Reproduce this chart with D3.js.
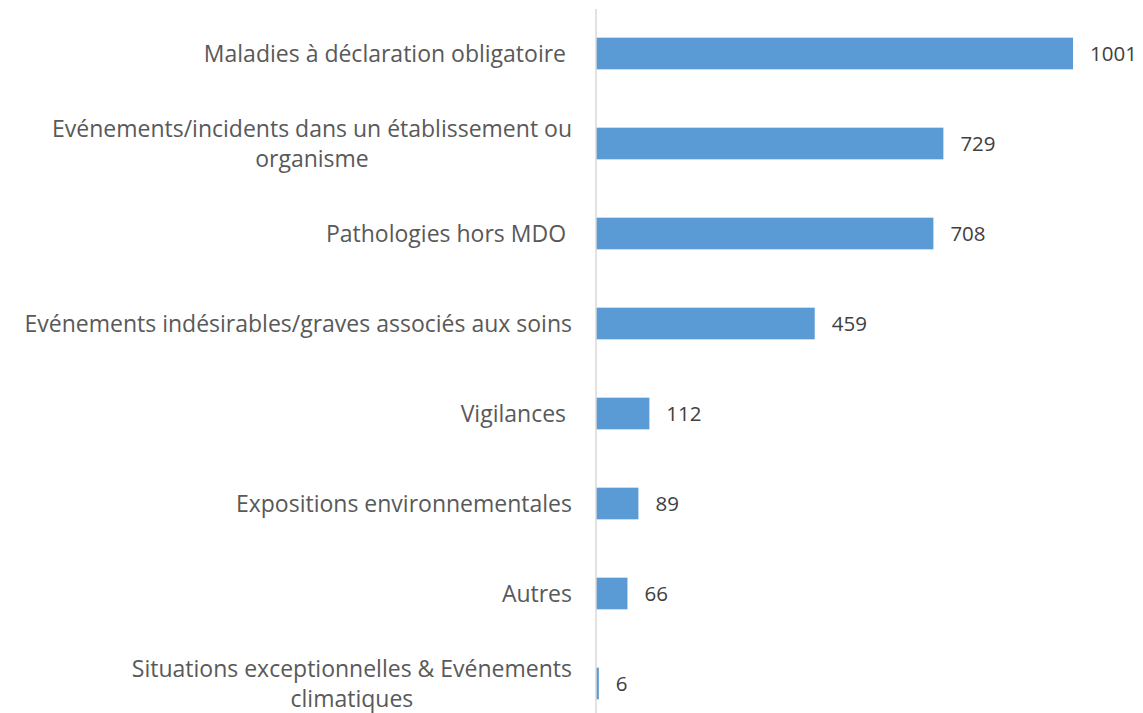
<!DOCTYPE html>
<html>
<head>
<meta charset="utf-8">
<script src="https://cdn.jsdelivr.net/npm/d3@7"></script>
<style>
  body { margin: 0; background: #fff; }
  text { font-family: "Open Sans", sans-serif; white-space: pre; }
</style>
</head>
<body>
<script>
// categories (each entry = lines of the wrapped label)
const categories = [
  ["Maladies à déclaration obligatoire "],
  ["Evénements/incidents dans un établissement ou", "organisme"],
  ["Pathologies hors MDO "],
  ["Evénements indésirables/graves associés aux soins"],
  ["Vigilances "],
  ["Expositions environnementales"],
  ["Autres"],
  ["Situations exceptionnelles & Evénements", "climatiques"]
];
const values = [1001, 729, 708, 459, 112, 89, 66, 6];

const width = 1143, height = 713;
const axisX = 596;

const svg = d3.select("body")
    .append("svg")
    .attr("width", width)
    .attr("height", height);

const x = d3.scaleLinear()
    .domain([0, 1001])
    .range([axisX, 1073]);

const y = d3.scaleBand()
    .domain(d3.range(categories.length))
    .range([8.5, 728.5])
    .paddingInner(0.648)
    .paddingOuter(0.324);

// bars
svg.selectAll("rect.bar")
    .data(values)
    .enter()
    .append("rect")
    .attr("class", "bar")
    .attr("x", x(0))
    .attr("y", (d, i) => y(i))
    .attr("width", d => x(d) - x(0))
    .attr("height", y.bandwidth())
    .attr("fill", "#5b9bd5");

// axis line
svg.append("line")
    .attr("x1", axisX)
    .attr("x2", axisX)
    .attr("y1", 9)
    .attr("y2", height)
    .attr("stroke", "#d9d9d9")
    .attr("stroke-width", 1.5);

// value labels
svg.selectAll("text.val")
    .data(values)
    .enter()
    .append("text")
    .attr("class", "val")
    .attr("x", d => x(d) + 17)
    .attr("y", (d, i) => y(i) + y.bandwidth() / 2)
    .attr("dy", "0.36em")
    .attr("font-size", 20.5)
    .attr("fill", "#404040")
    .text(d => d);

// category labels, block right-aligned, lines centred inside the block
const labelRight = 572;
const lineH = 30.5;
categories.forEach((lines, i) => {
  const cy = y(i) + y.bandwidth() / 2;
  const g = svg.append("g");
  const t = g.selectAll("text")
      .data(lines)
      .enter()
      .append("text")
      .attr("font-size", 23)
      .attr("fill", "#595959")
      .attr("y", (d, j) => cy + (j - (lines.length - 1) / 2) * lineH)
      .attr("dy", "0.36em")
      .text(d => d);
  const w = d3.max(t.nodes(), n => n.getComputedTextLength());
  t.attr("text-anchor", "middle").attr("x", labelRight - w / 2);
});
</script>
</body>
</html>
